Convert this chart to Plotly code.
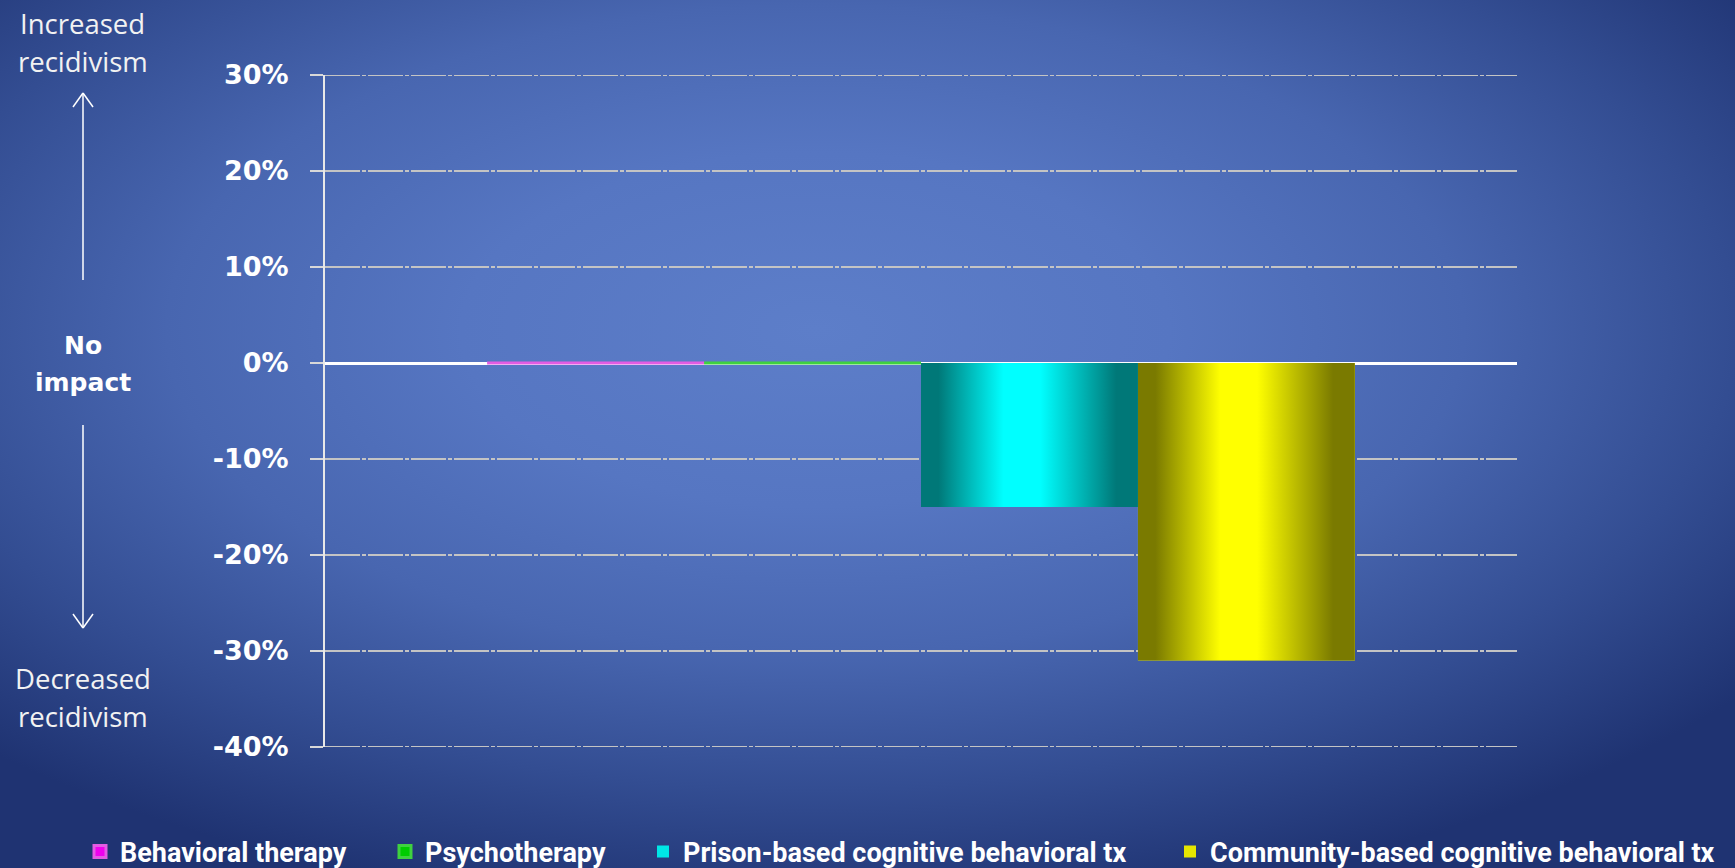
import base64
import plotly.graph_objects as go

# ---------------- data ----------------
category = ["Recidivism change"]
series = [
    "Behavioral therapy",
    "Psychotherapy",
    "Prison-based cognitive behavioral tx",
    "Community-based cognitive behavioral tx",
]
effects = [0, 0, -15, -31]          # % change in recidivism
y_ticks = [30, 20, 10, 0, -10, -20, -30, -40]
y_tick_labels = ["30%", "20%", "10%", "0%", "-10%", "-20%", "-30%", "-40%"]

legend_colors = ["#ee00ee", "#00cc00", "#00e6e6", "#e6e600"]
zero_line_colors = ["#e35ce3", "#3fd13f", "#00e6e6", "#e6e600"]
dark_colors = ["#8b008b", "#007a00", "#007878", "#7a7a00"]
bright_colors = ["#ff00ff", "#00ff00", "#00ffff", "#ffff00"]

# ---------------- layout geometry ----------------
W, H = 1735, 868
L, R, T, B = 325, 218, 75, 121
PW, PH = W - L - R, H - T - B
BARGAP = 0.272
GRID_DASH = "35px,2px,4px,2px"
LEGEND_TEXT_X = [120, 425, 683, 1210]   # pixel x where each legend label starts
LEGEND_Y = 852


def px(x):
    return (x - L) / PW


def py(y):
    return (H - B - y) / PH


def b64svg(svg):
    return "data:image/svg+xml;base64," + base64.b64encode(svg.encode()).decode()


def bar_gradient(dark, bright):
    svg = (
        '<svg xmlns="http://www.w3.org/2000/svg" width="100" height="100" '
        'viewBox="0 0 100 100" preserveAspectRatio="none"><defs>'
        '<linearGradient id="g" x1="0" y1="0" x2="1" y2="0">'
        f'<stop offset="0" stop-color="{dark}"/>'
        f'<stop offset="0.08" stop-color="{dark}"/>'
        f'<stop offset="0.38" stop-color="{bright}"/>'
        f'<stop offset="0.55" stop-color="{bright}"/>'
        f'<stop offset="0.9" stop-color="{dark}"/>'
        f'<stop offset="1" stop-color="{dark}"/>'
        '</linearGradient></defs>'
        '<rect width="100" height="100" fill="url(#g)"/></svg>'
    )
    return b64svg(svg)


bg_svg = (
    '<svg xmlns="http://www.w3.org/2000/svg" width="100" height="100" '
    'viewBox="0 0 100 100" preserveAspectRatio="none"><defs>'
    '<radialGradient id="r" cx="0.47" cy="0.38" r="0.68">'
    '<stop offset="0" stop-color="#5d7ec9"/>'
    '<stop offset="0.3" stop-color="#5676c2"/>'
    '<stop offset="0.55" stop-color="#4866b0"/>'
    '<stop offset="0.78" stop-color="#334d92"/>'
    '<stop offset="1" stop-color="#1f3372"/>'
    '</radialGradient></defs>'
    '<rect width="100" height="100" fill="url(#r)"/></svg>'
)

fig = go.Figure()

legend_ids = ["legend", "legend2", "legend3", "legend4"]
for i, name in enumerate(series):
    v = effects[i]
    fig.add_trace(
        go.Bar(
            x=category,
            y=[v],
            name=name,
            legend=legend_ids[i],
            marker=dict(
                color=legend_colors[i],
                line=dict(color=zero_line_colors[i], width=3 if v == 0 else 0),
            ),
            hovertemplate="%{y}%<extra>" + name + "</extra>",
        )
    )

images = [
    dict(
        source=b64svg(bg_svg), xref="paper", yref="paper",
        x=px(0), y=py(0), sizex=W / PW, sizey=H / PH,
        xanchor="left", yanchor="top", sizing="stretch", layer="below",
    )
]

group = 1 - BARGAP
w = group / len(series)
for i, v in enumerate(effects):
    if v != 0:
        images.append(
            dict(
                source=bar_gradient(dark_colors[i], bright_colors[i]),
                xref="x", yref="y",
                x=-group / 2 + i * w, y=0,
                sizex=w, sizey=abs(v),
                xanchor="left", yanchor="top" if v < 0 else "bottom",
                sizing="stretch", layer="above",
            )
        )

side_font = dict(family="Open Sans, Lato, sans-serif", size=27.5, color="#f2f2f2")
bold_font = dict(family="DejaVu Sans, Verdana, sans-serif", size=25, color="white", weight="bold")
annotations = []
for text, yy, f in [
    ("Increased", 23, side_font),
    ("recidivism", 61, side_font),
    ("No", 345, bold_font),
    ("impact", 382, bold_font),
    ("Decreased", 678, side_font),
    ("recidivism", 716, side_font),
]:
    annotations.append(
        dict(text=text, x=px(83), y=py(yy), xref="paper", yref="paper",
             showarrow=False, xanchor="center", yanchor="middle", font=f)
    )

shapes = []
arrow = dict(color="white", width=1.5)
ax_x = 83
# up arrow
shapes.append(dict(type="line", xref="paper", yref="paper", x0=px(ax_x), x1=px(ax_x), y0=py(93), y1=py(280), line=arrow))
shapes.append(dict(type="line", xref="paper", yref="paper", x0=px(ax_x - 10), x1=px(ax_x), y0=py(107), y1=py(93), line=arrow))
shapes.append(dict(type="line", xref="paper", yref="paper", x0=px(ax_x + 10), x1=px(ax_x), y0=py(107), y1=py(93), line=arrow))
# down arrow
shapes.append(dict(type="line", xref="paper", yref="paper", x0=px(ax_x), x1=px(ax_x), y0=py(425), y1=py(628), line=arrow))
shapes.append(dict(type="line", xref="paper", yref="paper", x0=px(ax_x - 10), x1=px(ax_x), y0=py(614), y1=py(628), line=arrow))
shapes.append(dict(type="line", xref="paper", yref="paper", x0=px(ax_x + 10), x1=px(ax_x), y0=py(614), y1=py(628), line=arrow))
# gridlines at the two range ends (plotly omits grid at the axis ends)
for yv in (min(y_ticks), max(y_ticks)):
    shapes.append(dict(type="line", xref="paper", yref="y", x0=0, x1=1, y0=yv, y1=yv,
                       layer="below", line=dict(color="#c4c4c4", width=2, dash=GRID_DASH)))

legend_font = dict(family="Roboto, sans-serif", size=27, color="white", weight="bold")
legends = {}
for i, lid in enumerate(legend_ids):
    legends[lid] = dict(
        orientation="h",
        xref="container", yref="container",
        x=(LEGEND_TEXT_X[i] - 40) / W, xanchor="left",
        y=1 - LEGEND_Y / H, yanchor="middle",
        bgcolor="rgba(0,0,0,0)",
        font=legend_font,
    )

fig.update_layout(
    width=W, height=H,
    margin=dict(l=L, r=R, t=T, b=B, autoexpand=False),
    paper_bgcolor="#2c4283",
    plot_bgcolor="rgba(0,0,0,0)",
    barmode="group",
    bargap=BARGAP,
    bargroupgap=0,
    showlegend=True,
    xaxis=dict(
        showticklabels=False, showgrid=False, zeroline=False, showline=False,
        ticks="", range=[-0.5, 0.5], fixedrange=True,
    ),
    yaxis=dict(
        range=[min(y_ticks), max(y_ticks)],
        tickvals=y_ticks, ticktext=y_tick_labels,
        showgrid=True, gridcolor="#c4c4c4", gridwidth=2, griddash=GRID_DASH,
        zeroline=True, zerolinecolor="white", zerolinewidth=3,
        showline=True, linecolor="#e8e8e8", linewidth=2,
        ticks="outside", ticklen=13, tickwidth=2, tickcolor="#d8d8d8",
        ticklabelstandoff=16,
        tickfont=dict(family="DejaVu Sans, Verdana, sans-serif", size=27, color="white", weight="bold"),
        fixedrange=True,
    ),
    images=images,
    annotations=annotations,
    shapes=shapes,
    **legends,
)

fig.write_html(
    "out.html",
    config={"displayModeBar": False},
    post_script="document.body.style.margin='0';document.body.style.overflow='hidden';",
)
